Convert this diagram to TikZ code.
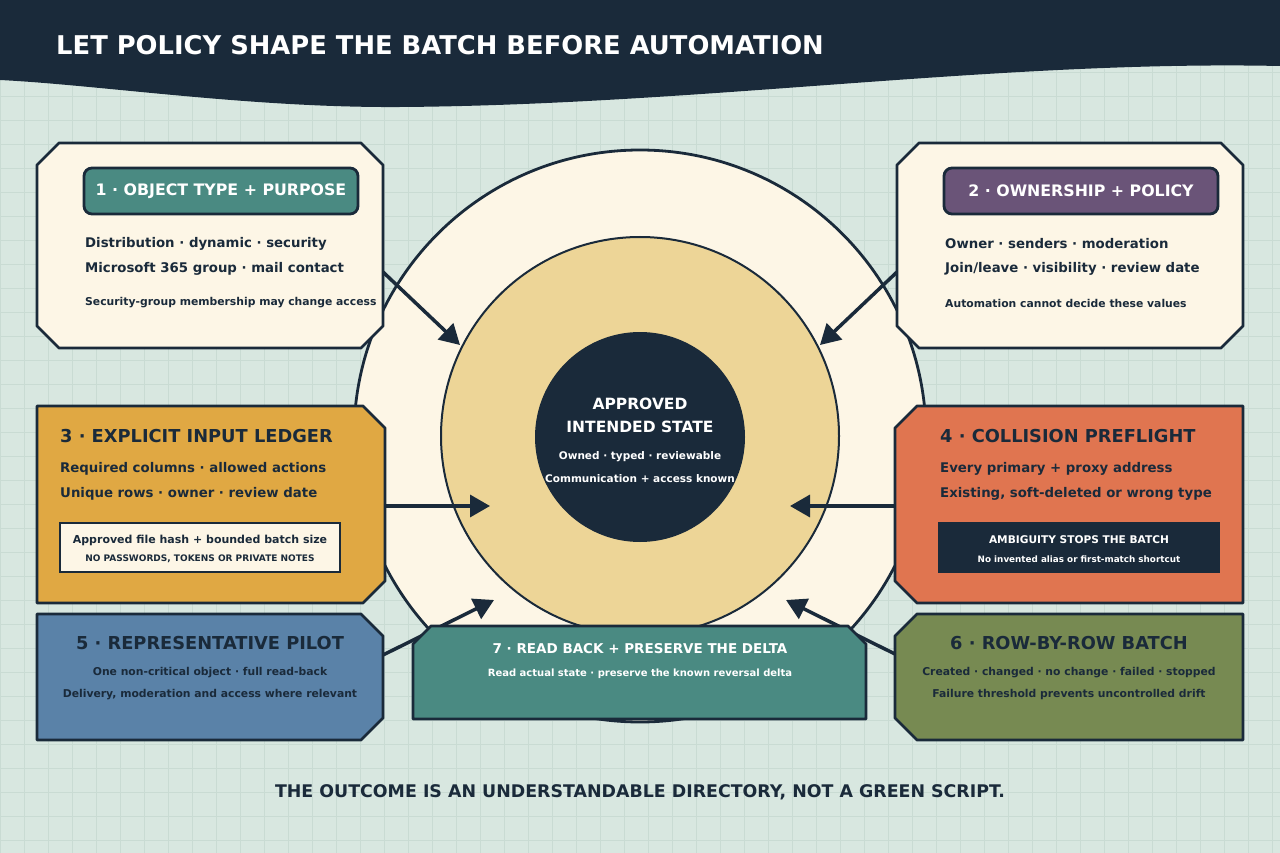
\documentclass[tikz,border=0pt]{standalone}
\usepackage{fontspec}
\setmainfont{DejaVu Sans}
\usetikzlibrary{arrows.meta}
\definecolor{navy}{HTML}{1A2A3A}
\definecolor{bg}{HTML}{D8E7E0}
\definecolor{gridc}{HTML}{C9DBD3}
\definecolor{cream}{HTML}{FDF6E6}
\definecolor{tan}{HTML}{EDD597}
\definecolor{teal}{HTML}{4A8A82}
\definecolor{purp}{HTML}{6A5478}
\definecolor{must}{HTML}{E0A843}
\definecolor{oran}{HTML}{E07550}
\definecolor{blu}{HTML}{5A82A8}
\definecolor{oliv}{HTML}{778A52}
\newcommand{\fs}[1]{\fontsize{#1}{#1}\selectfont\bfseries}
\tikzset{
  box/.style={draw=navy,line width=2.8pt,line join=round},
  arr/.style={draw=navy,line width=3.5pt,-{Triangle[length=20pt,width=22pt]}},
  t/.style={inner sep=0pt,text=navy},
  w/.style={inner sep=0pt,text=white},
}
\begin{document}
\begin{tikzpicture}[x=1pt,y=-1pt]
\useasboundingbox (0,0) rectangle (1280,853);
\fill[bg] (0,0) rectangle (1280,853);
\foreach \i in {0,24,...,1280} \draw[gridc,line width=0.7pt] (\i,0) -- (\i,853);
\foreach \i in {0,24,...,853} \draw[gridc,line width=0.7pt] (0,\i) -- (1280,\i);
% header
\fill[navy] (0,0) -- (1280,0) -- (1280,66) .. controls (1000,60) and (700,105) .. (400,107) .. controls (250,108) and (100,85) .. (0,80) -- cycle;
\node[w,anchor=west] (title) at (56,45) {\fs{25.8}LET POLICY SHAPE THE BATCH BEFORE AUTOMATION};
% circles
\draw[navy,line width=2.8pt,fill=cream] (640,436) circle (286);
\draw[navy,line width=2pt,fill=tan] (640,436) circle (199);
\fill[navy] (640,437) circle (105);
\node[w] (c1) at (640,404) {\fs{15.5}APPROVED};
\node[w] (c2) at (640,427) {\fs{15.5}INTENDED STATE};
\node[w] (c3) at (640,457) {\fs{10.5}Owned · typed · reviewable};
\node[w] (c4) at (640,479) {\fs{10.5}Communication + access known};
% arrow anchors
\coordinate (a1s) at (383,272); \coordinate (a1e) at (460,345);
\coordinate (a2s) at (897,272); \coordinate (a2e) at (820,345);
\coordinate (a3s) at (385,506); \coordinate (a3e) at (490,506);
\coordinate (a4s) at (897,506); \coordinate (a4e) at (790,506);
\coordinate (a5s) at (383,655); \coordinate (a5e) at (494,600);
\coordinate (a6s) at (897,655); \coordinate (a6e) at (786,600);
\foreach \s/\e in {a1s/a1e,a2s/a2e,a3s/a3e,a4s/a4e,a5s/a5e,a6s/a6e} \draw[arr] (\s) -- (\e);
% box 1
\draw[box,fill=cream] (59,143) -- (361,143) -- (383,165) -- (383,326) -- (361,348) -- (59,348) -- (37,326) -- (37,165) -- cycle;
\draw[box,fill=teal,rounded corners=8pt] (84,168) rectangle (358,214);
\node[w] (b1t) at (221,191) {\fs{15.8}1 · OBJECT TYPE + PURPOSE};
\node[t,anchor=west] (b1a) at (85,244) {\fs{13.3}Distribution · dynamic · security};
\node[t,anchor=west] (b1b) at (85,269) {\fs{13.3}Microsoft 365 group · mail contact};
\node[t,anchor=west] (b1c) at (85,303) {\fs{10.8}Security-group membership may change access};
% box 2
\draw[box,fill=cream] (919,143) -- (1221,143) -- (1243,165) -- (1243,326) -- (1221,348) -- (919,348) -- (897,326) -- (897,165) -- cycle;
\draw[box,fill=purp,rounded corners=8pt] (944,168) rectangle (1218,214);
\node[w] (b2t) at (1081,191) {\fs{15.8}2 · OWNERSHIP + POLICY};
\node[t,anchor=west] (b2a) at (945,244) {\fs{13.3}Owner · senders · moderation};
\node[t,anchor=west] (b2b) at (945,269) {\fs{13.3}Join/leave · visibility · review date};
\node[t,anchor=west] (b2c) at (945,303) {\fs{10.8}Automation cannot decide these values};
% box 3
\draw[box,fill=must] (37,406) -- (363,406) -- (385,428) -- (385,581) -- (363,603) -- (37,603) -- cycle;
\node[t,anchor=west] (b3t) at (60,436) {\fs{17.8}3 · EXPLICIT INPUT LEDGER};
\node[t,anchor=west] (b3a) at (60,469) {\fs{13.3}Required columns · allowed actions};
\node[t,anchor=west] (b3b) at (60,494) {\fs{13.3}Unique rows · owner · review date};
\draw[navy,line width=2pt,fill=cream] (60,523) rectangle (340,572);
\node[t] (b3c) at (200,540) {\fs{11}Approved file hash + bounded batch size};
\node[t] (b3d) at (200,559) {\fs{9}NO PASSWORDS, TOKENS OR PRIVATE NOTES};
% box 4
\draw[box,fill=oran] (917,406) -- (1243,406) -- (1243,603) -- (917,603) -- (895,581) -- (895,428) -- cycle;
\node[t,anchor=west] (b4t) at (940,436) {\fs{17.8}4 · COLLISION PREFLIGHT};
\node[t,anchor=west] (b4a) at (940,469) {\fs{13.3}Every primary + proxy address};
\node[t,anchor=west] (b4b) at (940,494) {\fs{13.3}Existing, soft-deleted or wrong type};
\fill[navy] (938,522) rectangle (1220,573);
\node[w] (b4c) at (1079,540) {\fs{10.6}AMBIGUITY STOPS THE BATCH};
\node[w] (b4d) at (1079,559) {\fs{8.8}No invented alias or first-match shortcut};
% box 5
\draw[box,fill=blu] (37,614) -- (361,614) -- (383,636) -- (383,718) -- (361,740) -- (37,740) -- cycle;
\node[t] (b5t) at (210,643) {\fs{17.8}5 · REPRESENTATIVE PILOT};
\node[t] (b5a) at (210,673) {\fs{10.8}One non-critical object · full read-back};
\node[t] (b5b) at (210,695) {\fs{10.8}Delivery, moderation and access where relevant};
% box 6
\draw[box,fill=oliv] (917,614) -- (1243,614) -- (1243,740) -- (917,740) -- (895,718) -- (895,636) -- cycle;
\node[t] (b6t) at (1069,643) {\fs{17.8}6 · ROW-BY-ROW BATCH};
\node[t] (b6a) at (1069,673) {\fs{10.8}Created · changed · no change · failed · stopped};
\node[t] (b6b) at (1069,695) {\fs{10.8}Failure threshold prevents uncontrolled drift};
% box 7
\draw[box,fill=teal] (431,626) -- (848,626) -- (866,644) -- (866,719) -- (413,719) -- (413,644) -- cycle;
\node[w] (b7t) at (640,649) {\fs{13.5}7 · READ BACK + PRESERVE THE DELTA};
\node[w] (b7a) at (640,674) {\fs{10}Read actual state · preserve the known reversal delta};
% footer
\node[t] (foot) at (640,792) {\fs{17.4}THE OUTCOME IS AN UNDERSTANDABLE DIRECTORY, NOT A GREEN SCRIPT.};
\end{tikzpicture}
\end{document}
